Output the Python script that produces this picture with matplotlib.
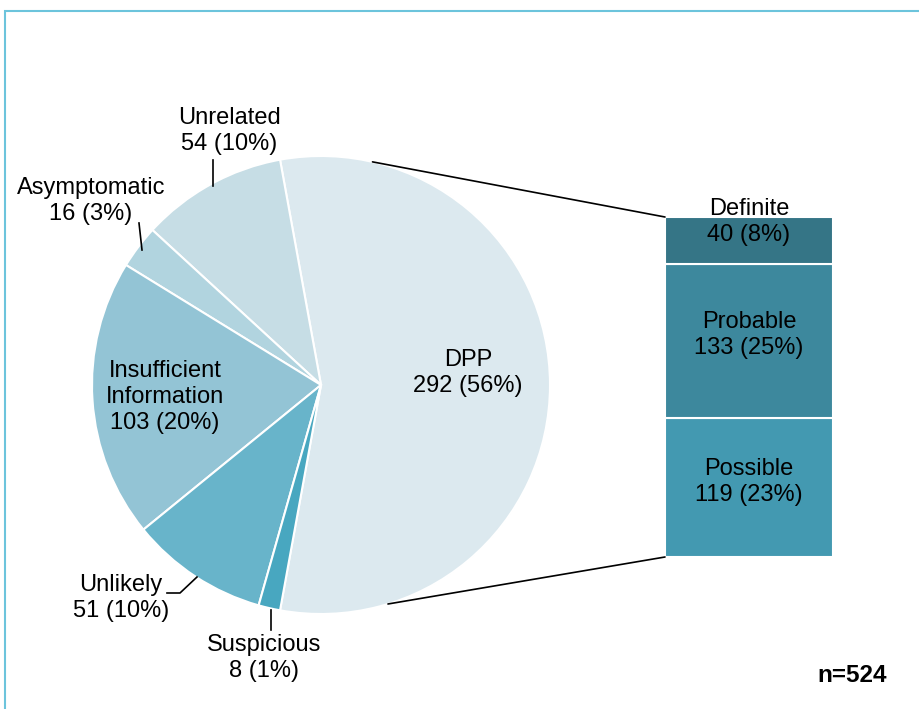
import matplotlib
matplotlib.use("Agg")
import matplotlib.pyplot as plt
from matplotlib.patches import ConnectionPatch
import numpy as np

plt.rcParams["font.family"] = ["Liberation Sans", "DejaVu Sans"]

# pie data (counter-clockwise from DPP)
pie_labels = ["DPP", "Unrelated", "Asymptomatic", "Insufficient\nInformation", "Unlikely", "Suspicious"]
pie_values = [292, 54, 16, 103, 51, 8]
pie_pcts = [56, 10, 3, 20, 10, 1]
pie_colors = ["#dce9ef", "#c6dde5", "#b1d4df", "#93c4d5", "#68b4ca", "#48a7c0"]

# bar breakdown of DPP (bottom to top)
bar_labels = ["Possible", "Probable", "Definite"]
bar_values = [119, 133, 40]
bar_pcts = [23, 25, 8]
bar_colors = ["#4399b1", "#3d889d", "#357586"]

total = sum(pie_values)
W, H = 919, 709
fs = 17
ls = 1.25

fig = plt.figure(figsize=(W / 100, H / 100), dpi=100)

# --- pie ---
cx, cy, r = 321, 385, 229
ax_pie = fig.add_axes([(cx - r) / W, (H - cy - r) / H, 2 * r / W, 2 * r / H])
dpp_angle = 360 * pie_values[0] / total
ax_pie.pie(pie_values, colors=pie_colors, startangle=-dpp_angle / 2, counterclock=True,
           wedgeprops=dict(edgecolor="white", linewidth=1.5))
ax_pie.set_xlim(-1, 1)
ax_pie.set_ylim(-1, 1)
ax_pie.set_aspect("auto")
ax_pie.axis("off")

# --- stacked bar ---
bx0, bx1, by0, by1 = 665, 833, 217, 557
ax_bar = fig.add_axes([bx0 / W, (H - by1) / H, (bx1 - bx0) / W, (by1 - by0) / H])
bottom = 0
for lab, v, p, c in zip(bar_labels, bar_values, bar_pcts, bar_colors):
    ax_bar.bar(0, v, width=1, bottom=bottom, color=c, edgecolor="white", linewidth=1.5)
    yt = bottom + v / 2 + (v * 0.04 if lab != "Definite" else v * 0.4)
    ax_bar.text(0, yt, f"{lab}\n{v} ({p}%)", ha="center", va="center", fontsize=fs,
                color="black", linespacing=ls)
    bottom += v
ax_bar.set_xlim(-0.5, 0.5)
ax_bar.set_ylim(0, sum(bar_values))
ax_bar.axis("off")

# connector lines from the DPP slice to the bar
for ang, yb in [(77, sum(bar_values)), (-73, 0)]:
    t = np.deg2rad(ang)
    con = ConnectionPatch(xyA=(np.cos(t), np.sin(t)), coordsA=ax_pie.transData,
                          xyB=(-0.5, yb), coordsB=ax_bar.transData,
                          color="black", linewidth=1.2)
    fig.add_artist(con)

# --- overlay in pixel coordinates for labels and frame ---
ov = fig.add_axes([0, 0, 1, 1], zorder=5)
ov.set_xlim(0, W)
ov.set_ylim(H, 0)
ov.patch.set_alpha(0)
ov.axis("off")

label_pos = {
    "DPP": (468, 373),
    "Unrelated": (229, 131),
    "Asymptomatic": (91, 201),
    "Insufficient\nInformation": (165, 397),
    "Unlikely": (121, 598),
    "Suspicious": (264, 658),
}
for lab, v, p in zip(pie_labels, pie_values, pie_pcts):
    x, y = label_pos[lab]
    ov.text(x, y, f"{lab}\n{v} ({p}%)", ha="center", va="center", fontsize=fs,
            linespacing=ls, color="black")

# leader lines
leaders = [
    ([213, 213], [160, 186]),
    ([139, 142], [223, 250]),
    ([197, 180, 167], [577, 593, 593]),
    ([271, 271], [610, 630]),
]
for xs, ys in leaders:
    ov.plot(xs, ys, color="black", linewidth=1.2)

ov.text(852, 675, "n=524", ha="center", va="center", fontsize=17.5, fontweight="bold")

# frame
ov.plot([4.5, 4.5, W], [H, 10.5, 10.5], color="#6cc4dc", linewidth=1.5, solid_joinstyle="miter")

fig.savefig("out.png", dpi=100, facecolor="white")
